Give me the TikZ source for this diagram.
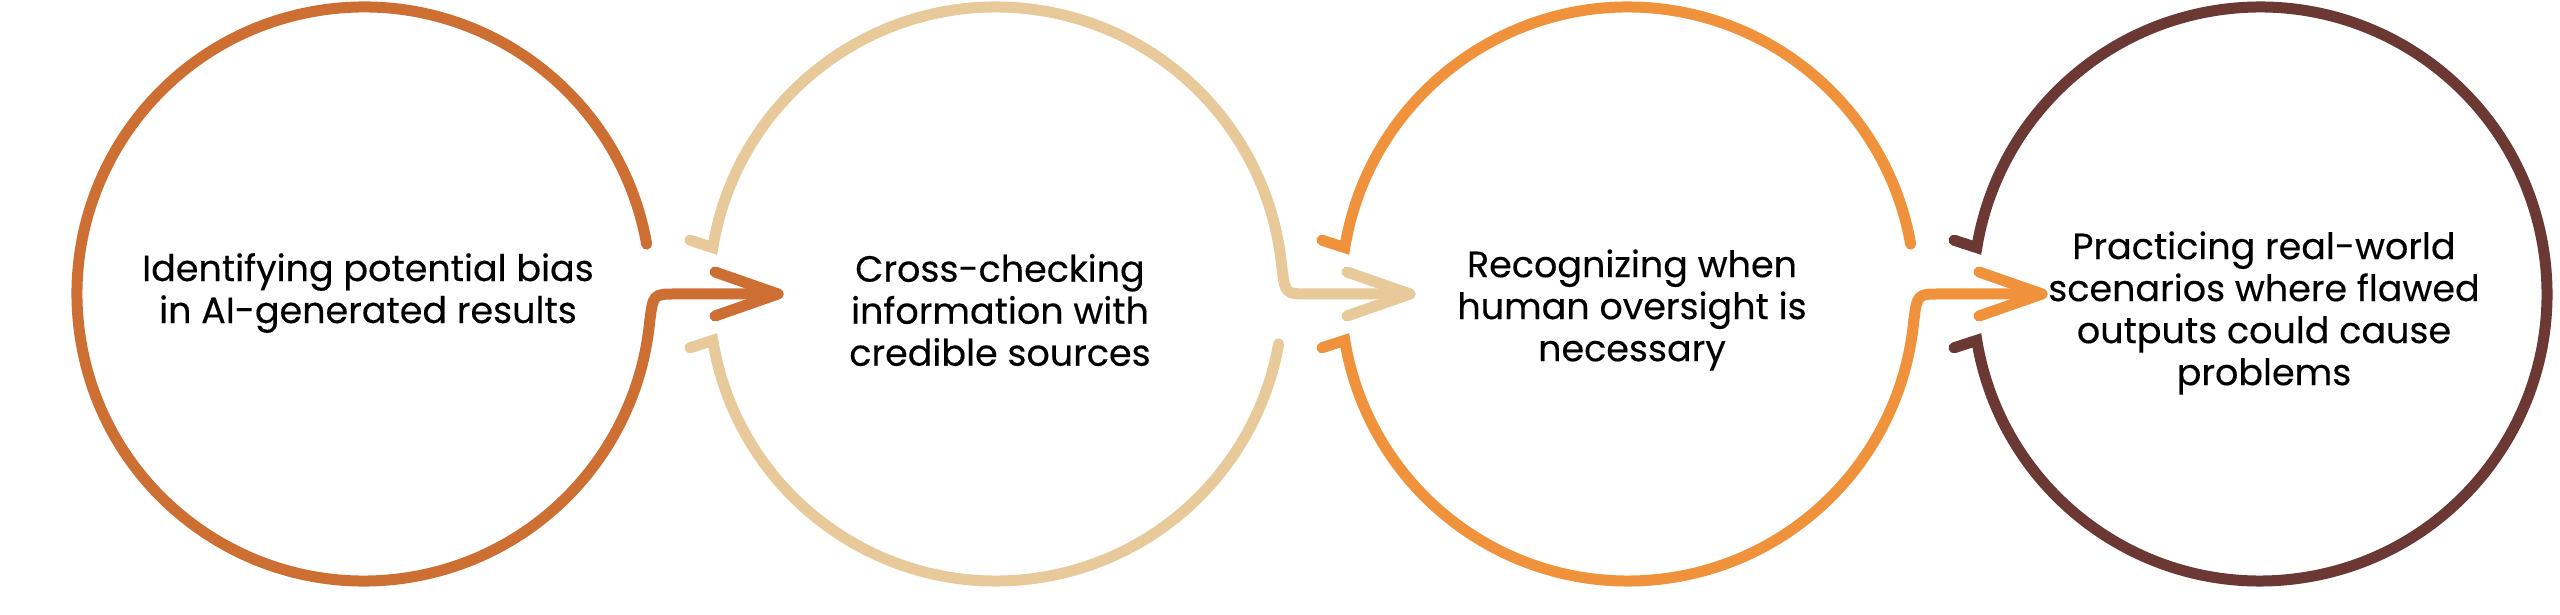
\documentclass[tikz,border=0pt]{standalone}
\usepackage{fontspec}
\setmainfont{Poppins}[FakeBold=0.3]
\usetikzlibrary{calc}
\definecolor{cA}{HTML}{CD6E32}
\definecolor{cB}{HTML}{E8C999}
\definecolor{cC}{HTML}{F0913C}
\definecolor{cD}{HTML}{6B3834}
\begin{document}
\begin{tikzpicture}[x=1pt,y=1pt,
  ringline/.style={line width=11pt, line cap=round, line join=miter},
  arrowhd/.style={line width=11pt, line cap=round, line join=round},
  txt/.style={align=center, font=\fontsize{36.5}{42}\selectfont, text=black, inner sep=0pt}]
\useasboundingbox (0,0) rectangle (2560,615);
\fill[white] (0,0) rectangle (2560,615);
% centres
\coordinate (k1) at (364,321);
\coordinate (k2) at (996,321);
\coordinate (k3) at (1628,321);
\coordinate (k4) at (2260,321);
% arrow tips
\coordinate (t1) at (778,321);
\coordinate (t2) at (1410,321);
\coordinate (t3) at (2042,321);
% circle 1
\draw[ringline, cA] ($(k1)+(10:287)$) arc[start angle=10, end angle=354, radius=287]
  .. controls ($(k1)+(289,0)$) .. ($(k1)+(312,0)$) -- (t1);
\draw[arrowhd, cA] ($(t1)+(-63,22)$) -- (t1) -- ($(t1)+(-63,-22)$);
% circle 2
\draw[ringline, cB] ($(k2)+(170.7:287)+(162:24)$) -- ($(k2)+(170.7:287)$)
  arc[start angle=170.7, end angle=6, radius=287]
  .. controls ($(k2)+(289,0)$) .. ($(k2)+(312,0)$) -- (t2);
\draw[ringline, cB] ($(k2)+(189.3:287)+(198:24)$) -- ($(k2)+(189.3:287)$)
  arc[start angle=189.3, end angle=350, radius=287];
\draw[arrowhd, cB] ($(t2)+(-63,22)$) -- (t2) -- ($(t2)+(-63,-22)$);
% circle 3
\draw[ringline, cC] ($(k3)+(170.7:287)+(162:24)$) -- ($(k3)+(170.7:287)$)
  arc[start angle=170.7, end angle=10, radius=287];
\draw[ringline, cC] ($(k3)+(189.3:287)+(198:24)$) -- ($(k3)+(189.3:287)$)
  arc[start angle=189.3, end angle=354, radius=287]
  .. controls ($(k3)+(289,0)$) .. ($(k3)+(312,0)$) -- (t3);
\draw[arrowhd, cC] ($(t3)+(-63,22)$) -- (t3) -- ($(t3)+(-63,-22)$);
% circle 4
\draw[ringline, cD] ($(k4)+(189.3:287)+(198:24)$) -- ($(k4)+(189.3:287)$)
  arc[start angle=189.3, end angle=530.7, radius=287] -- ++(162:24);
% texts
\node[txt] (n1) at (368,322) {Identifying potential bias\\in AI-generated results};
\node[txt] (n2) at (1000,305) {Cross-checking\\information with\\credible sources};
\node[txt] (n3) at (1632,305) {Recognizing when\\human oversight is\\necessary};
\node[txt] (n4) at (2264,302) {Practicing real-world\\scenarios where flawed\\outputs could cause\\problems};
\end{tikzpicture}
\end{document}
